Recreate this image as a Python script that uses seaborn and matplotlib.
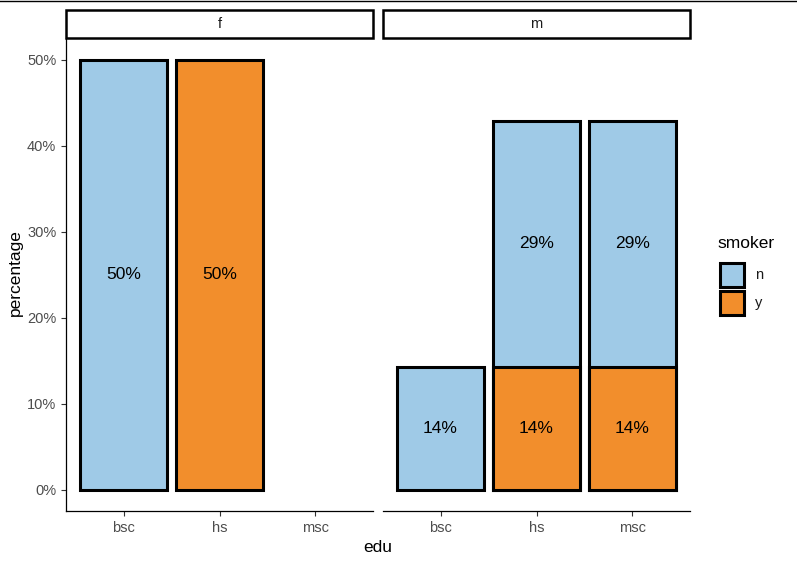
import pandas as pd
import seaborn as sns
import matplotlib.pyplot as plt
from matplotlib.patches import Rectangle
from matplotlib.lines import Line2D
from matplotlib.ticker import PercentFormatter

# --------------------------------------------------------------------------- #
# Data (share of respondents within each sex)
# --------------------------------------------------------------------------- #
EDU_ORDER = ["bsc", "hs", "msc"]
SEXES = ["f", "m"]
SMOKER_LEVELS = ["n", "y"]

row_sex    = ["f",   "f",  "m",   "m",  "m",  "m",   "m"]
row_edu    = ["bsc", "hs", "bsc", "hs", "hs", "msc", "msc"]
row_smoker = ["n",   "y",  "n",   "y",  "n",  "y",   "n"]
row_pct    = [0.50,  0.50, 1 / 7, 1 / 7, 2 / 7, 1 / 7, 2 / 7]

COLORS = {"n": "#9FCAE7", "y": "#F28E2C"}
GREY = "#4D4D4D"

df = pd.DataFrame({"sex": row_sex, "edu": row_edu,
                   "smoker": row_smoker, "pct": row_pct})
# stack "y" at the bottom, "n" on top (ggplot position_stack order)
df["level"] = df["smoker"].map({"y": 0, "n": 1})
df = df.sort_values(["sex", "edu", "level"])
df["top"] = df.groupby(["sex", "edu"])["pct"].cumsum()
df["mid"] = df["top"] - df["pct"] / 2

plt.rcParams["font.family"] = ["Liberation Sans", "DejaVu Sans"]

W, H = 797, 566
fig = plt.figure(figsize=(W / 100, H / 100), dpi=100)
fig.patch.set_facecolor("white")


def fx(px):
    return px / W


def fy(py):
    return 1 - py / H


panel_left = [66, 383]
panel_w = 307
ax_top, ax_bot = 38, 511
strip_top = 10
LW = 2.2

for i, sex in enumerate(SEXES):
    x0 = panel_left[i]
    ax = fig.add_axes([fx(x0), fy(ax_bot), fx(panel_w), (ax_bot - ax_top) / H])
    sub = df[df["sex"] == sex]

    # draw "n" as full stack height, then "y" on top of it from zero
    for smk in ["n", "y"]:
        part = sub[sub["smoker"] == smk]
        if part.empty:
            continue
        sns.barplot(data=part, x="edu", y="top", order=EDU_ORDER,
                    color=COLORS[smk], saturation=1, width=0.9,
                    edgecolor="black", linewidth=LW, errorbar=None, ax=ax)

    for _, r in sub.iterrows():
        ax.text(EDU_ORDER.index(r["edu"]), r["mid"], f"{round(r['pct'] * 100)}%",
                ha="center", va="center", fontsize=12.5, color="black")

    ax.set_xlim(-0.6, 2.6)
    ax.set_ylim(-0.025, 0.525)
    ax.set_xlabel("")
    ax.set_ylabel("")
    ax.yaxis.set_major_formatter(PercentFormatter(1.0, decimals=0))
    ax.set_yticks([0, 0.1, 0.2, 0.3, 0.4, 0.5])
    for s in ["top", "right"]:
        ax.spines[s].set_visible(False)
    ax.spines["bottom"].set_linewidth(0.9)
    ax.spines["left"].set_linewidth(0.9)
    ax.tick_params(axis="both", labelsize=10.5, labelcolor=GREY, color="#333333",
                   length=3.5, width=0.8)
    if i == 1:
        ax.spines["left"].set_visible(False)
        ax.tick_params(axis="y", left=False, labelleft=False)

    # facet strip
    sax = fig.add_axes([fx(x0), fy(ax_top), fx(panel_w), (ax_top - strip_top) / H])
    sax.set_xlim(0, 1)
    sax.set_ylim(0, 1)
    sax.axis("off")
    sax.add_patch(Rectangle((0, 0), 1, 1, facecolor="white", edgecolor="black",
                            linewidth=1.8, clip_on=False))
    sax.text(0.5, 0.5, sex, ha="center", va="center", fontsize=10.5, color="#1A1A1A")

fig.text(fx(378), fy(548), "edu", ha="center", va="center", fontsize=12.5)
fig.text(fx(15), fy(273), "percentage", ha="center", va="center",
         rotation=90, fontsize=12.5)

# legend, drawn as keys in a small overlay axes (pixel units)
lax = fig.add_axes([0, 0, 1, 1], facecolor="none")
lax.set_xlim(0, W)
lax.set_ylim(H, 0)
lax.axis("off")
lax.text(717, 244, "smoker", ha="left", va="center", fontsize=12.5)
for k, smk in enumerate(SMOKER_LEVELS):
    yc = 275 + k * 28
    lax.add_patch(Rectangle((720, yc - 12), 24, 24, facecolor=COLORS[smk],
                            edgecolor="black", linewidth=LW))
    lax.text(755, yc, smk, ha="left", va="center", fontsize=10.5, color="#1A1A1A")

# thin rule along the top edge of the screenshot
fig.add_artist(Line2D([0, 1], [fy(0.5), fy(0.5)], color="black", linewidth=1.0,
                      transform=fig.transFigure))

fig.savefig("out.png", dpi=100, facecolor="white")
